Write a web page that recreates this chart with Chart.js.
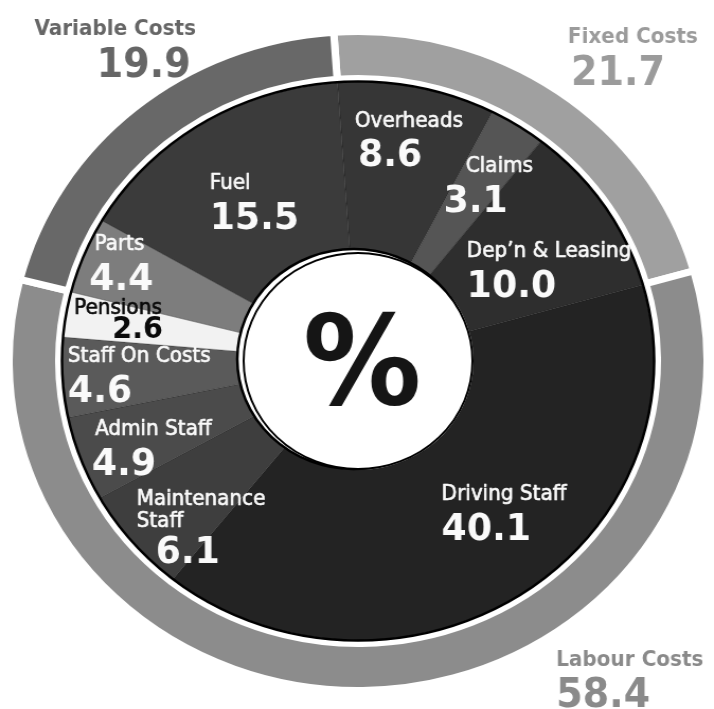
<!DOCTYPE html>
<html>
<head>
<meta charset="utf-8">
<script src="https://cdn.jsdelivr.net/npm/chart.js@4.4.0/dist/chart.umd.min.js"></script>
<style>
  html, body { margin: 0; padding: 0; background: #fff; overflow: hidden; }
  /* the source picture is a little wider than it is tall, so stretch the canvas */
  #wrap { width: 674px; height: 709px; transform: scaleX(1.0593); transform-origin: 0 0; }
</style>
</head>
<body>
<div id="wrap"><canvas id="costChart" width="674" height="709"></canvas></div>
<script>
// outer ring, clockwise from the top
const groupLabels = ['Fixed Costs', 'Labour Costs', 'Variable Costs'];
const groupValues = [21.7, 58.4, 19.9];

// inner pie, clockwise from the top
const itemLabels = ['Overheads', 'Claims', 'Dep\u2019n & Leasing', 'Driving Staff', 'Maintenance Staff',
  'Admin Staff', 'Staff On Costs', 'Pensions', 'Parts', 'Fuel'];
const itemValues = [8.6, 3.1, 10.0, 40.1, 6.1, 4.9, 4.6, 2.6, 4.4, 15.5];

const groupColors = ['#a0a0a0', '#8c8c8c', '#686868'];
const itemColors = ['#363636', '#555555', '#2e2e2e', '#232323', '#3e3e3e',
  '#4b4b4b', '#5a5a5a', '#f2f2f2', '#7d7d7d', '#3b3b3b'];

// where each inner label sits: distance from centre, turn off the slice middle (deg),
// shift of the number against the name, gap name->number, number size, colour, wrap name
const spots = [
  { r: 227, turn: 0.7, shift: 3, gap: 12, size: 38, color: '#fafafa' },
  { r: 215, turn: 2.3, shift: -21, gap: 12, size: 38, color: '#fafafa' },
  { r: 202, turn: 7, shift: 0, gap: 12, size: 38, color: '#fafafa' },
  { r: 205, turn: -8.7, shift: 0, gap: 12, size: 38, color: '#fafafa' },
  { r: 222, turn: -7.8, shift: 18, gap: 8, size: 38, color: '#fafafa', wrap: true },
  { r: 213, turn: -3.4, shift: -3, gap: 12, size: 38, color: '#fafafa' },
  { r: 207, turn: -0.4, shift: 0, gap: 12, size: 38, color: '#fafafa' },
  { r: 230, turn: 1, shift: 36, gap: 2, size: 30, color: '#0a0a0a' },
  { r: 244, turn: 1.5, shift: -5, gap: 12, size: 38, color: '#fafafa' },
  { r: 187, turn: 0.4, shift: 0, gap: 12, size: 38, color: '#fafafa' }
];

// outer group captions, offsets from the centre
const outerSpots = [
  { dx: 198, numDx: 201, nameDy: -318, numDy: -276, align: 'left', color: '#9b9b9b' },
  { dx: 187, numDx: 187, nameDy: 305, numDy: 346, align: 'left', color: '#8a8a8a' },
  { dx: -153, numDx: -158, nameDy: -326, numDy: -284, align: 'right', color: '#666666' }
];

const nameFont = '21px "DejaVu Sans Condensed"';

const pieText = {
  id: 'pieText',
  afterDatasetsDraw(chart) {
    const ctx = chart.ctx;
    const inner = chart.getDatasetMeta(1).data;
    const cx = inner[0].x, cy = inner[0].y;
    const rIn = inner[0].innerRadius;
    const rOut = inner[0].outerRadius - 3;
    ctx.save();

    // black rim round the pie
    ctx.beginPath();
    ctx.arc(cx, cy, rOut, 0, Math.PI * 2);
    ctx.lineWidth = 2.5;
    ctx.strokeStyle = '#000';
    ctx.stroke();

    // centre hole with a second, offset edge
    ctx.beginPath();
    ctx.arc(cx - 4, cy - 2, rIn + 1, 0, Math.PI * 2);
    ctx.fillStyle = '#fff';
    ctx.fill();
    ctx.lineWidth = 2.5;
    ctx.stroke();
    ctx.beginPath();
    ctx.arc(cx, cy, rIn - 1, 0, Math.PI * 2);
    ctx.fill();
    ctx.lineWidth = 2;
    ctx.stroke();

    ctx.fillStyle = '#151515';
    ctx.font = 'bold 124px "DejaVu Sans Condensed"';
    ctx.textAlign = 'center';
    ctx.textBaseline = 'alphabetic';
    ctx.fillText('%', cx + 4, cy + 43);

    // slice labels
    ctx.textAlign = 'left';
    ctx.lineJoin = 'round';
    inner.forEach((arc, i) => {
      const s = spots[i];
      const mid = (arc.startAngle + arc.endAngle) / 2 + s.turn * Math.PI / 180;
      const ax = cx + Math.cos(mid) * s.r;
      const ay = cy + Math.sin(mid) * s.r;
      const lines = s.wrap ? itemLabels[i].split(' ') : [itemLabels[i]];
      const num = itemValues[i].toFixed(1);

      ctx.font = nameFont;
      const nameW = Math.max(...lines.map(l => ctx.measureText(l).width));
      const numFont = 'bold ' + s.size + 'px "DejaVu Sans Condensed"';
      ctx.font = numFont;
      const numW = ctx.measureText(num).width;
      const lo = Math.min(0, s.shift);
      const hi = Math.max(nameW, s.shift + numW);
      const x0 = ax - (lo + hi) / 2;
      const blockH = 15 + (lines.length - 1) * 22 + s.gap + s.size * 0.73;
      let y = ay - blockH / 2 + 15;

      ctx.fillStyle = s.color;
      ctx.strokeStyle = s.color;
      ctx.lineWidth = 0.6;
      ctx.font = nameFont;
      lines.forEach((l, k) => {
        ctx.fillText(l, x0, y + k * 22);
        ctx.strokeText(l, x0, y + k * 22);
      });
      y += (lines.length - 1) * 22 + s.gap + s.size * 0.73;
      ctx.font = numFont;
      ctx.fillText(num, x0 + s.shift, y);
    });

    // group captions
    groupLabels.forEach((name, i) => {
      const o = outerSpots[i];
      ctx.fillStyle = o.color;
      ctx.textAlign = o.align;
      ctx.font = 'bold 21px "DejaVu Sans Condensed"';
      ctx.fillText(name, cx + o.dx, cy + o.nameDy);
      ctx.font = 'bold 40px "DejaVu Sans Condensed"';
      ctx.fillText(groupValues[i].toFixed(1), cx + o.numDx, cy + o.numDy);
    });
    ctx.restore();
  }
};

new Chart(document.getElementById('costChart'), {
  type: 'doughnut',
  data: {
    labels: itemLabels,
    datasets: [
      {
        label: 'Groups',
        data: groupValues,
        backgroundColor: groupColors,
        borderColor: '#fff',
        borderWidth: 7,
        borderJoinStyle: 'miter',
        weight: 47
      },
      {
        label: 'Items',
        data: itemValues,
        backgroundColor: itemColors,
        borderColor: 'rgba(0,0,0,0.3)',
        borderWidth: 0.7,
        weight: 173.5
      }
    ]
  },
  options: {
    responsive: false,
    animation: false,
    devicePixelRatio: 1,
    rotation: -4,
    cutout: 109,
    hoverOffset: 0,
    events: [],
    layout: { padding: { top: 28, bottom: 15, left: 2 } },
    plugins: {
      legend: { display: false },
      tooltip: { enabled: false }
    }
  },
  plugins: [pieText]
});
</script>
</body>
</html>
